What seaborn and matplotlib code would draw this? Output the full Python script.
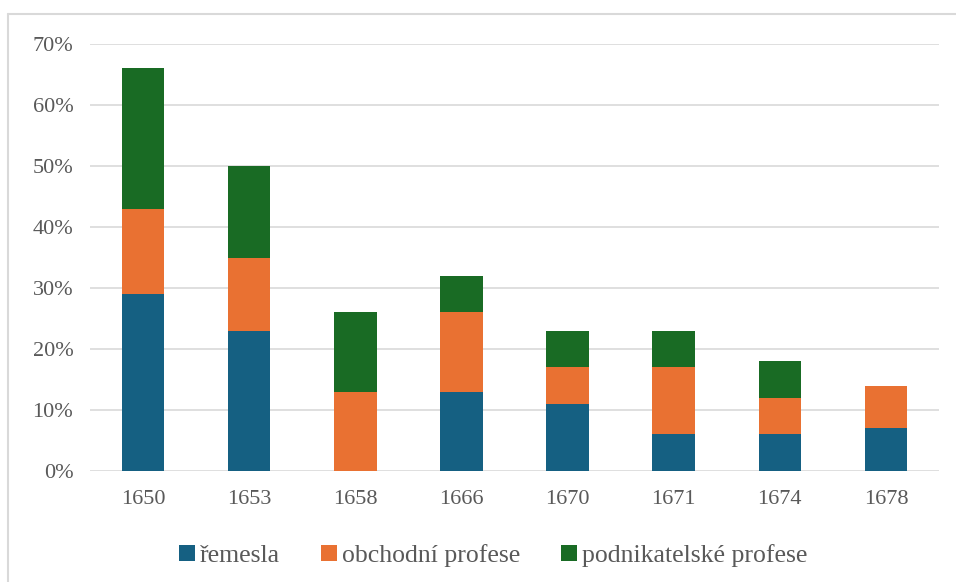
import numpy as np
import pandas as pd
import matplotlib.pyplot as plt
import seaborn as sns
from matplotlib.lines import Line2D
from matplotlib.ticker import PercentFormatter

# data (in %)
roky = ['1650', '1653', '1658', '1666', '1670', '1671', '1674', '1678']
remesla = [29, 23, 0, 13, 11, 6, 6, 7]
obchodni = [14, 12, 13, 13, 6, 11, 6, 7]
podnikatelske = [23, 15, 13, 6, 6, 6, 6, 0]

serie = ['řemesla', 'obchodní profese', 'podnikatelské profese']
barvy = ['#156082', '#E97132', '#196B24']

df = pd.DataFrame({'rok': roky, serie[0]: remesla, serie[1]: obchodni, serie[2]: podnikatelske})

sns.set_style('white')
plt.rcParams['font.family'] = ['Liberation Serif', 'DejaVu Serif']

fig = plt.figure(figsize=(9.56, 5.82), dpi=100)
ax = fig.add_axes([90 / 956, 1 - 471 / 582, (939 - 90) / 956, (471 - 44) / 582])

spodek = np.zeros(len(roky))
for nazev, barva in zip(serie, barvy):
    sns.barplot(data=df, x='rok', y=nazev, color=barva, saturation=1, width=0.4,
                bottom=spodek, ax=ax, label=nazev, linewidth=0, zorder=3)
    spodek = spodek + df[nazev].to_numpy()

ax.set_ylim(0, 70)
ax.set_xlim(-0.5, len(roky) - 0.5)
ax.set_yticks(range(0, 71, 10))
ax.yaxis.set_major_formatter(PercentFormatter(decimals=0))
ax.grid(axis='y', color='#d9d9d9', linewidth=1.2, zorder=0)
for s in ax.spines.values():
    s.set_visible(False)
ax.set_xlabel('')
ax.set_ylabel('')
ax.tick_params(axis='both', length=0, labelsize=16, labelcolor='#595959')
ax.tick_params(axis='x', pad=14)
ax.tick_params(axis='y', pad=12)

ax.legend(loc='upper center', bbox_to_anchor=(0.475, -0.117), ncol=3, frameon=False,
          fontsize=18.5, labelcolor='#595959', handlelength=0.6, handleheight=0.6,
          handletextpad=0.2, columnspacing=1.6)

# rámeček grafu (jen horní a levá hrana je vidět)
x0, y0 = 8 / 956, 1 - 14 / 582
fig.lines.append(Line2D([x0, 1.05], [y0, y0], transform=fig.transFigure, color='#d9d9d9', linewidth=1.5))
fig.lines.append(Line2D([x0, x0], [-0.05, y0], transform=fig.transFigure, color='#d9d9d9', linewidth=1.5))

fig.savefig('out.png', dpi=100)
